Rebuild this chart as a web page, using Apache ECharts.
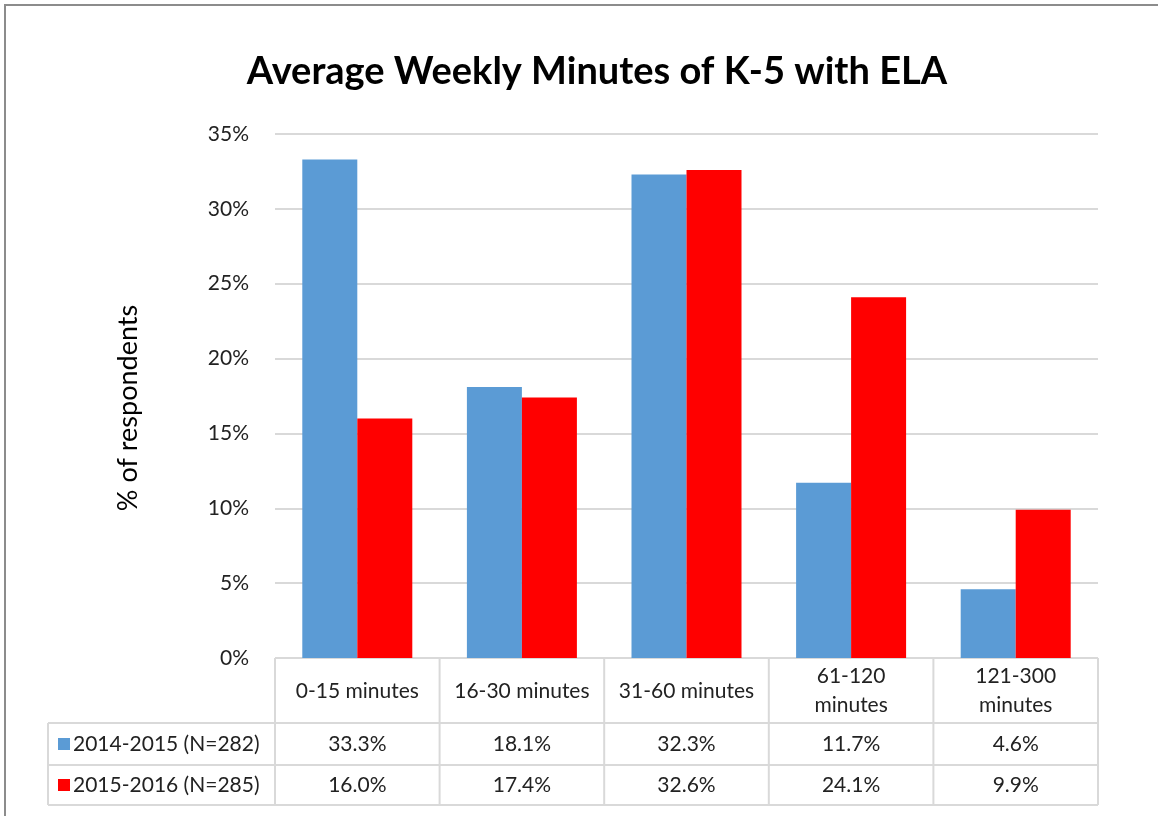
<!DOCTYPE html>
<html>
<head>
<meta charset="utf-8">
<script src="https://cdn.jsdelivr.net/npm/echarts@6/dist/echarts.min.js"></script>
<style>
  html, body { margin: 0; padding: 0; background: #fff; }
  #chart { width: 1158px; height: 816px; }
</style>
</head>
<body>
<div id="chart"></div>
<script>
const categories = ['0-15 minutes', '16-30 minutes', '31-60 minutes', '61-120\nminutes', '121-300\nminutes'];
const seriesNames = ['2014-2015 (N=282)', '2015-2016 (N=285)'];
const values2014 = [33.3, 18.1, 32.3, 11.7, 4.6];
const values2016 = [16.0, 17.4, 32.6, 24.1, 9.9];
const yTicks = [0, 5, 10, 15, 20, 25, 30, 35];

const COLORS = ['#5b9bd5', '#ff0000'];
const FONT = 'Lato, "Open Sans", sans-serif';
const LINE = '#d9d9d9';
const TXT = 21;

// plot box (table hangs under it)
const G = { left: 275, right: 60, top: 134, bottom: 158 };
const W = 1158, H = 816;
const rowY = [658, 723, 765, 805]; // table row boundaries
const headLeft = 48;

const chart = echarts.init(document.getElementById('chart'));

const option = {
  animation: false,
  color: COLORS,
  title: {
    text: 'Average Weekly Minutes of K-5 with ELA',
    left: 592, top: 48, textAlign: 'center',
    textStyle: { fontFamily: FONT, fontSize: 38, fontWeight: 'bold', color: '#000' }
  },
  grid: { left: G.left, right: G.right, top: G.top, bottom: G.bottom, containLabel: false },
  xAxis: {
    type: 'category',
    data: categories,
    axisLine: { show: false },
    axisTick: { show: false },
    axisLabel: {
      interval: 0, margin: 33, verticalAlign: 'middle',
      fontFamily: FONT, fontSize: TXT, color: '#222', lineHeight: 29
    }
  },
  yAxis: {
    type: 'value',
    min: 0, max: 35, interval: 5,
    name: '% of respondents',
    nameLocation: 'middle',
    nameGap: 133,
    nameTextStyle: { fontFamily: FONT, fontSize: 27, color: '#000', padding: [0, 24, 0, 0] },
    axisLine: { show: false },
    axisTick: { show: false },
    axisLabel: {
      margin: 26, fontFamily: FONT, fontSize: TXT, color: '#222',
      formatter: v => yTicks.includes(v) ? v + '%' : ''
    },
    splitLine: { lineStyle: { color: LINE, width: 2 } }
  },
  series: [
    { name: seriesNames[0], type: 'bar', data: values2014, barWidth: 55, barGap: '0%' },
    { name: seriesNames[1], type: 'bar', data: values2016, barWidth: 55, barGap: '0%' }
  ]
};
chart.setOption(option);

// data table under the plot, placed from the category axis
const right = W - G.right;
const colEdges = [G.left];
const step = (right - G.left) / categories.length;
categories.forEach((c, i) => colEdges.push(G.left + step * (i + 1)));

const graphics = [];
const line = (x1, y1, x2, y2) => graphics.push({
  type: 'line', shape: { x1, y1, x2, y2 },
  style: { stroke: LINE, lineWidth: 2 }, silent: true
});
line(G.left, rowY[0], right, rowY[0]);
rowY.slice(1).forEach(y => line(headLeft, y, right, y));
line(headLeft, rowY[1], headLeft, rowY[3]);
colEdges.forEach(x => line(x, rowY[0], x, rowY[3]));

const rows = [values2014, values2016];
rows.forEach((vals, r) => {
  const cy = (rowY[r + 1] + rowY[r + 2]) / 2;
  graphics.push({
    type: 'rect', shape: { x: 58, y: cy - 6, width: 12, height: 12 },
    style: { fill: COLORS[r] }, silent: true
  });
  graphics.push({
    type: 'text', x: 73, y: cy,
    style: { text: seriesNames[r], fontFamily: FONT, fontSize: TXT, fill: '#222', verticalAlign: 'middle' }
  });
  vals.forEach((v, i) => {
    const cx = chart.convertToPixel({ xAxisIndex: 0 }, i);
    graphics.push({
      type: 'text', x: cx, y: cy,
      style: { text: v.toFixed(1) + '%', fontFamily: FONT, fontSize: TXT, fill: '#222', align: 'center', verticalAlign: 'middle' }
    });
  });
});

// outer frame
graphics.push({
  type: 'rect', shape: { x: 5, y: 5, width: W + 20, height: H + 20 },
  style: { fill: 'none', stroke: '#8c8c8c', lineWidth: 2 }, silent: true
});

chart.setOption({ graphic: graphics });
</script>
</body>
</html>
